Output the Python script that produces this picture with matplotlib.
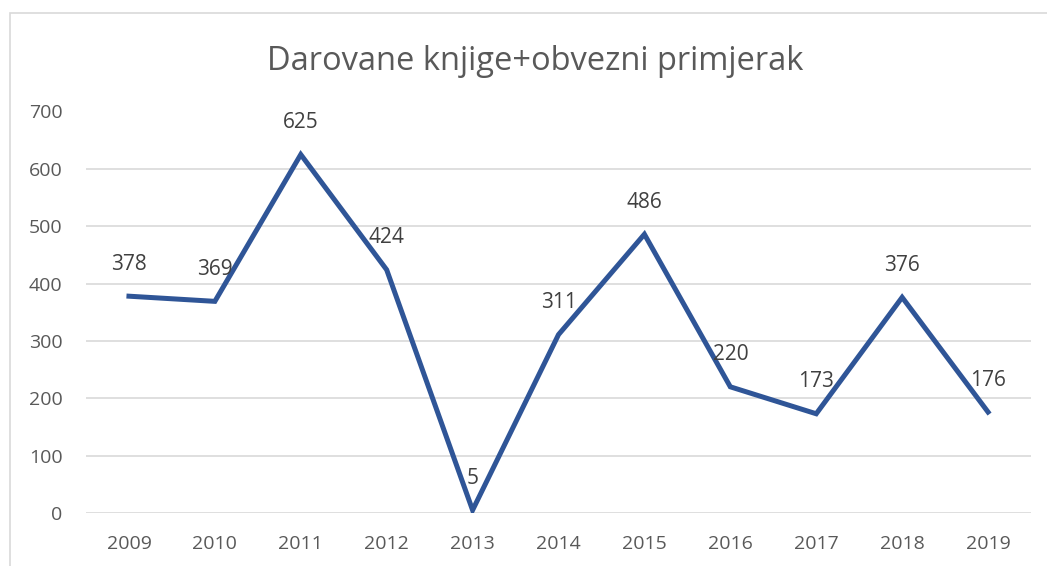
import matplotlib
matplotlib.use("Agg")
import matplotlib.pyplot as plt
from matplotlib.patches import Rectangle

years = ["2009", "2010", "2011", "2012", "2013", "2014", "2015", "2016", "2017", "2018", "2019"]
books = [378, 369, 625, 424, 5, 311, 486, 220, 173, 376, 176]
y_ticks = [0, 100, 200, 300, 400, 500, 600, 700]

TITLE = "Darovane knjige+obvezni primjerak"
LINE_COLOR = "#2F5597"
GRID_COLOR = "#D9D9D9"

plt.rcParams["font.family"] = ["Open Sans", "DejaVu Sans"]

W, H = 1047, 566
fig = plt.figure(figsize=(W / 100, H / 100), dpi=100)
ax = fig.add_axes([86 / W, 1 - 513 / H, (1031 - 86) / W, (513 - 111.5) / H])

x = list(range(len(years)))
ax.plot(x, books, color=LINE_COLOR, linewidth=3.6, solid_joinstyle="miter", zorder=3)

for xi, val in zip(x, books):
    ax.annotate(str(val), (xi, val), xytext=(0, 32), textcoords="offset pixels",
                ha="center", va="center", fontsize=15, color="#404040", zorder=4)

ax.set_xlim(-0.5, len(years) - 0.5)
ax.set_ylim(0, 700)
ax.set_xticks(x)
ax.set_xticklabels(years)
ax.set_yticks(y_ticks)
ax.tick_params(axis="both", length=0, labelsize=14, labelcolor="#595959")
ax.tick_params(axis="y", pad=17)
ax.tick_params(axis="x", pad=16)
ax.grid(axis="y", color=GRID_COLOR, linewidth=1.2)
ax.set_axisbelow(True)
for side in ax.spines.values():
    side.set_visible(False)

fig.text(535 / W, 1 - 61 / H, TITLE, ha="center", va="center", fontsize=23.5, color="#595959")

# outer chart border, cut off at right and bottom like the screenshot
fig.patches.append(Rectangle((10 / W, -0.1), 1.2, (H - 13) / H + 0.1, transform=fig.transFigure,
                             fill=False, edgecolor=GRID_COLOR, linewidth=1.2))

fig.savefig("out.png", dpi=100)
